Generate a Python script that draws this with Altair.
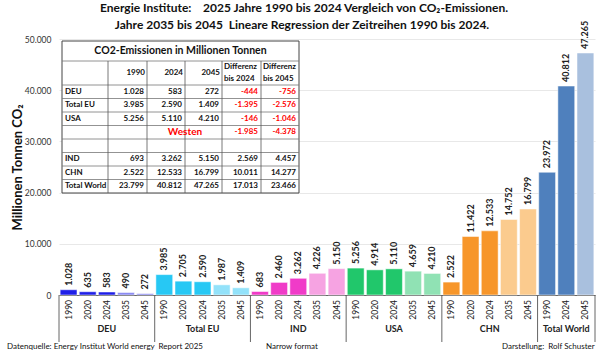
import altair as alt
import pandas as pd

# ---------------- data ----------------
groups = ["DEU", "Total EU", "IND", "USA", "CHN", "Total World"]
group_years = [
    ["1990", "2020", "2024", "2035", "2045"],
    ["1990", "2020", "2024", "2035", "2045"],
    ["1990", "2020", "2024", "2035", "2045"],
    ["1990", "2020", "2024", "2035", "2045"],
    ["1990", "2020", "2024", "2035", "2045"],
    ["1990", "2024", "2045"],
]
deu = [1028, 635, 583, 490, 272]
eu = [3985, 2705, 2590, 1987, 1409]
ind = [683, 2460, 3262, 4226, 5150]
usa = [5256, 4914, 5110, 4659, 4210]
chn = [2522, 11422, 12533, 14752, 16799]
world = [23972, 40812, 47265]
group_values = [deu, eu, ind, usa, chn, world]
projection_years = ["2035", "2045"]

solid_colors = ["#1F1FE8", "#27C8F4", "#F03BC8", "#21C76B", "#F7962A", "#4F80BD"]
light_colors = ["#8C8CF2", "#93E2FA", "#F6A3E2", "#90E2B4", "#FBCB8E", "#A9C0DE"]

# table
table_title = "CO2-Emissionen in Millionen Tonnen"
table_rows = ["DEU", "Total EU", "USA", "", "", "IND", "CHN", "Total World"]
t1990 = [1028, 3985, 5256, None, None, 693, 2522, 23799]
t2024 = [583, 2590, 5110, None, None, 3262, 12533, 40812]
t2045 = [272, 1409, 4210, None, None, 5150, 16799, 47265]
d2024 = [-444, -1395, -146, -1985, None, 2569, 10011, 17013]
d2045 = [-756, -2576, -1046, -4378, None, 4457, 14277, 23466]
westen_label = "Westen"

title1 = "Energie Institute:\u00a0\u00a0\u00a0\u00a02025 Jahre 1990 bis 2024 Vergleich von CO₂-Emissionen."
title2 = "Jahre 2035 bis 2045\u00a0\u00a0Lineare Regression der Zeitreihen 1990 bis 2024."
footer_left = "Datenquelle: Energy Institut World energy\u00a0\u00a0Report 2025"
footer_mid = "Narrow format"
footer_right = "Darstellung:\u00a0\u00a0Rolf Schuster"

FONT = "Lato"


def de(v):
    return f"{v:,}".replace(",", ".")


# ---------------- bars ----------------
rows = []
i = 0
bounds = [0]
centers = []
for g, yrs, vals in zip(groups, group_years, group_values):
    start = i
    for y, v in zip(yrs, vals):
        kind = "proj" if y in projection_years else "hist"
        rows.append(dict(idx=i, x0=i + 0.06, x1=i + 0.94, xc=i + 0.5, group=g,
                         year=y, value=v, label=de(v), series=f"{g}|{kind}"))
        i += 1
    bounds.append(i)
    centers.append(dict(group=g, xc=(start + i) / 2))
n_bars = i
bars_df = pd.DataFrame(rows)
bounds_df = pd.DataFrame({"b": bounds})
centers_df = pd.DataFrame(centers)

series_domain, series_range = [], []
for g, sc, lc in zip(groups, solid_colors, light_colors):
    series_domain += [f"{g}|hist", f"{g}|proj"]
    series_range += [sc, lc]

xscale = alt.Scale(domain=[0, n_bars], nice=False, zero=False)
yscale = alt.Scale(domain=[0, 50000], nice=False)

W, H = 536, 256

x_axis = alt.Axis(
    values=[k + 0.5 for k in range(n_bars)], labels=False,
    ticks=False, grid=False, domain=True, domainColor="#666", title=None,
)
y_axis = alt.Axis(
    values=list(range(0, 50001, 5000)),
    labelExpr="replace(format(datum.value, ','), ',', '.')",
    labelFontSize=8.5, labelColor="#333", labelPadding=8,
    grid=True, gridColor="#e8e8e8", domain=False, ticks=False,
    title="Millionen Tonnen CO₂", titleFontSize=13, titleFontWeight="bold",
    titleColor="#111", titleX=-42, titleY=H / 2, titleAngle=270,
    titleAlign="center", titleBaseline="middle",
)

base = alt.Chart(bars_df)
bars = base.mark_bar(stroke="white", strokeWidth=0.5).encode(
    x=alt.X("x0:Q", scale=xscale, axis=x_axis),
    x2="x1:Q",
    y=alt.Y("value:Q", scale=yscale, axis=y_axis),
    y2=alt.datum(0),
    color=alt.Color("series:N", scale=alt.Scale(domain=series_domain, range=series_range), legend=None),
)
labels = base.mark_text(angle=270, align="left", baseline="middle", dx=4,
                        fontSize=9, fontWeight="bold", color="#222").encode(
    x=alt.X("xc:Q", scale=xscale), y=alt.Y("value:Q", scale=yscale), text="label:N")
year_labels = base.mark_text(angle=270, align="right", baseline="middle",
                             fontSize=8.5, color="#222").encode(
    x=alt.X("xc:Q", scale=xscale), y=alt.value(H + 5), text="year:N")

seps = alt.Chart(bounds_df).mark_rule(color="#666", strokeWidth=1).encode(
    x=alt.X("b:Q", scale=xscale), y=alt.value(H), y2=alt.value(H + 47))
group_labels = alt.Chart(centers_df).mark_text(fontSize=9, fontWeight="bold", color="#222",
                                               baseline="middle").encode(
    x=alt.X("xc:Q", scale=xscale), y=alt.value(H + 34), text="group:N")

# ---------------- titles / footer ----------------
def free_text(txt, px, py, size, weight="normal", align="center", color="#111"):
    d = pd.DataFrame({"t": [txt], "px": [px], "py": [py]})
    return alt.Chart(d).mark_text(fontSize=size, fontWeight=weight, align=align,
                                  baseline="middle", color=color).encode(
        x=alt.X("px:Q", scale=None, axis=None), y=alt.Y("py:Q", scale=None, axis=None), text="t:N")

t1 = free_text(title1, 245, -31, 12, "bold")
t2 = free_text(title2, 243, -14, 12, "bold")
f1 = free_text(footer_left, -52, H + 52, 8, align="left")
f2 = free_text(footer_mid, 207, H + 52, 8, align="left")
f3 = free_text(footer_right, 443, H + 52, 8, align="left")

# ---------------- table ----------------
col_b = [3, 49, 88, 126, 163, 202, 240]
top, title_bot, head_bot, rh = 2, 22, 46, 13.5
row_b = [head_bot + rh * k for k in range(len(table_rows) + 1)]
bottom = row_b[-1]

rect_df = pd.DataFrame({"a": [col_b[0]], "b": [col_b[-1]], "c": [top], "d": [bottom]})
table_bg = alt.Chart(rect_df).mark_rect(fill="white", stroke="#444", strokeWidth=1).encode(
    x=alt.X("a:Q", scale=None, axis=None), x2="b:Q",
    y=alt.Y("c:Q", scale=None, axis=None), y2="d:Q")

hl = [dict(a=col_b[0], b=col_b[-1], c=yv) for yv in [title_bot, head_bot] + row_b[1:-1]]
vl = [dict(a=xv, c=title_bot, d=bottom) for xv in col_b[1:-1]]
hlines = alt.Chart(pd.DataFrame(hl)).mark_rule(color="#777", strokeWidth=0.8).encode(
    x=alt.X("a:Q", scale=None, axis=None), x2="b:Q", y=alt.Y("c:Q", scale=None, axis=None))
vlines = alt.Chart(pd.DataFrame(vl)).mark_rule(color="#555", strokeWidth=0.8).encode(
    x=alt.X("a:Q", scale=None, axis=None), y=alt.Y("c:Q", scale=None, axis=None), y2="d:Q")

cells_r, cells_l = [], []
for r, name in enumerate(table_rows):
    yc = row_b[r] + rh / 2
    if name:
        cells_l.append(dict(px=col_b[0] + 3, py=yc, t=name, col="#111"))
    for c, arr in enumerate([t1990, t2024, t2045, d2024, d2045]):
        v = arr[r]
        if v is None:
            continue
        cells_r.append(dict(px=col_b[c + 2] - 3, py=yc, t=de(v), col="#FF0000" if v < 0 else "#111"))
for c, h in enumerate(["1990", "2024", "2045"]):
    cells_r.append(dict(px=col_b[c + 2] - 2, py=(title_bot + head_bot) / 2, t=h, col="#111"))
for c, h in enumerate(["bis 2024", "bis 2045"]):
    cells_l.append(dict(px=col_b[c + 4] + 2, py=title_bot + 6, t="Differenz", col="#111"))
    cells_l.append(dict(px=col_b[c + 4] + 2, py=title_bot + 18, t=h, col="#111"))

def cell_layer(cells, align, size):
    return alt.Chart(pd.DataFrame(cells)).mark_text(align=align, baseline="middle", fontSize=size,
                                                    fontWeight="bold").encode(
        x=alt.X("px:Q", scale=None, axis=None), y=alt.Y("py:Q", scale=None, axis=None),
        text="t:N", color=alt.Color("col:N", scale=None))

cells_right = cell_layer(cells_r, "right", 8)
cells_left = cell_layer(cells_l, "left", 8)
tab_title = free_text(table_title, (col_b[0] + col_b[-1]) / 2, (top + title_bot) / 2, 10.5, "bold")
westen = free_text(westen_label, col_b[3] + 0, row_b[3] + rh / 2, 10, "bold", color="#FF0000")

chart = alt.layer(
    bars, labels, year_labels, seps, group_labels, t1, t2, f1, f2, f3,
    table_bg, hlines, vlines, cells_right, cells_left, tab_title, westen,
).properties(
    width=W, height=H,
    padding={"left": 59, "top": 39, "right": 10, "bottom": 57},
    autosize=alt.AutoSizeParams(type="none"),
).configure(font=FONT, background="white").configure_view(stroke=None)

chart.save("out.html", embed_options={"renderer": "svg", "actions": False})
